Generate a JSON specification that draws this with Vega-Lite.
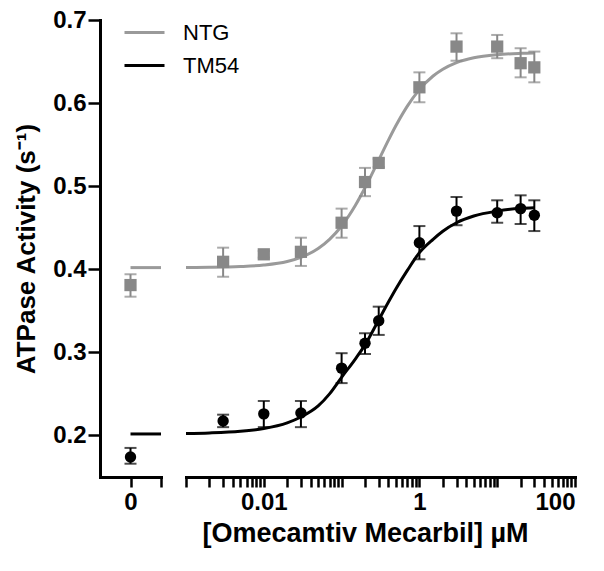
{
  "$schema": "https://vega.github.io/schema/vega-lite/v6.json",
  "padding": {"left": 13, "top": 8, "right": 5, "bottom": 5},
  "background": "white",
  "bounds": "flush",
  "config": {
    "view": {"stroke": null},
    "font": "Liberation Sans",
    "axis": {
      "grid": false,
      "domainColor": "black",
      "domainWidth": 3,
      "domainCap": "square",
      "tickColor": "black",
      "tickWidth": 2.5,
      "labelColor": "black",
      "titleColor": "black",
      "labelFont": "Liberation Sans",
      "titleFont": "Liberation Sans",
      "labelFontSize": 24,
      "labelFontWeight": "bold",
      "titleFontSize": 26,
      "titleFontWeight": "bold"
    }
  },
  "datasets": {
    "pts": [
      {"group": "NTG", "conc": 0, "act": 0.381, "lo": 0.367, "hi": 0.394},
      {"group": "NTG", "conc": 0.003, "act": 0.409, "lo": 0.391, "hi": 0.426},
      {"group": "NTG", "conc": 0.01, "act": 0.418, "lo": 0.414, "hi": 0.422},
      {"group": "NTG", "conc": 0.03, "act": 0.421, "lo": 0.404, "hi": 0.438},
      {"group": "NTG", "conc": 0.1, "act": 0.456, "lo": 0.438, "hi": 0.473},
      {"group": "NTG", "conc": 0.2, "act": 0.505, "lo": 0.488, "hi": 0.522},
      {"group": "NTG", "conc": 0.3, "act": 0.528, "lo": 0.523, "hi": 0.533},
      {"group": "NTG", "conc": 1, "act": 0.619, "lo": 0.601, "hi": 0.637},
      {"group": "NTG", "conc": 3, "act": 0.668, "lo": 0.651, "hi": 0.684},
      {"group": "NTG", "conc": 10, "act": 0.668, "lo": 0.654, "hi": 0.682},
      {"group": "NTG", "conc": 20, "act": 0.648, "lo": 0.631, "hi": 0.666},
      {"group": "NTG", "conc": 30, "act": 0.643, "lo": 0.625, "hi": 0.662},
      {"group": "TM54", "conc": 0, "act": 0.174, "lo": 0.166, "hi": 0.185},
      {"group": "TM54", "conc": 0.003, "act": 0.2175, "lo": 0.210, "hi": 0.225},
      {"group": "TM54", "conc": 0.01, "act": 0.226, "lo": 0.210, "hi": 0.2415},
      {"group": "TM54", "conc": 0.03, "act": 0.227, "lo": 0.210, "hi": 0.2415},
      {"group": "TM54", "conc": 0.1, "act": 0.281, "lo": 0.263, "hi": 0.299},
      {"group": "TM54", "conc": 0.2, "act": 0.311, "lo": 0.298, "hi": 0.323},
      {"group": "TM54", "conc": 0.3, "act": 0.338, "lo": 0.321, "hi": 0.355},
      {"group": "TM54", "conc": 1, "act": 0.432, "lo": 0.412, "hi": 0.452},
      {"group": "TM54", "conc": 3, "act": 0.470, "lo": 0.453, "hi": 0.487},
      {"group": "TM54", "conc": 10, "act": 0.468, "lo": 0.456, "hi": 0.483},
      {"group": "TM54", "conc": 20, "act": 0.473, "lo": 0.4545, "hi": 0.489},
      {"group": "TM54", "conc": 30, "act": 0.465, "lo": 0.446, "hi": 0.483}
    ],
    "fit": [
      {"group": "NTG", "conc": 0.001, "act": 0.4022},
      {"group": "NTG", "conc": 0.002, "act": 0.4024},
      {"group": "NTG", "conc": 0.005, "act": 0.4033},
      {"group": "NTG", "conc": 0.01, "act": 0.4051},
      {"group": "NTG", "conc": 0.02, "act": 0.4094},
      {"group": "NTG", "conc": 0.03, "act": 0.4144},
      {"group": "NTG", "conc": 0.05, "act": 0.425},
      {"group": "NTG", "conc": 0.07, "act": 0.436},
      {"group": "NTG", "conc": 0.1, "act": 0.4521},
      {"group": "NTG", "conc": 0.15, "act": 0.4768},
      {"group": "NTG", "conc": 0.2, "act": 0.4981},
      {"group": "NTG", "conc": 0.3, "act": 0.5315},
      {"group": "NTG", "conc": 0.4, "act": 0.5554},
      {"group": "NTG", "conc": 0.5, "act": 0.573},
      {"group": "NTG", "conc": 0.7, "act": 0.5964},
      {"group": "NTG", "conc": 1, "act": 0.6162},
      {"group": "NTG", "conc": 1.5, "act": 0.6326},
      {"group": "NTG", "conc": 2, "act": 0.6407},
      {"group": "NTG", "conc": 3, "act": 0.6487},
      {"group": "NTG", "conc": 5, "act": 0.6545},
      {"group": "NTG", "conc": 10, "act": 0.6583},
      {"group": "NTG", "conc": 20, "act": 0.6599},
      {"group": "NTG", "conc": 30, "act": 0.6604},
      {"group": "TM54", "conc": 0.001, "act": 0.2025},
      {"group": "TM54", "conc": 0.002, "act": 0.2031},
      {"group": "TM54", "conc": 0.005, "act": 0.205},
      {"group": "TM54", "conc": 0.01, "act": 0.2084},
      {"group": "TM54", "conc": 0.02, "act": 0.2152},
      {"group": "TM54", "conc": 0.03, "act": 0.2222},
      {"group": "TM54", "conc": 0.05, "act": 0.2355},
      {"group": "TM54", "conc": 0.07, "act": 0.25},
      {"group": "TM54", "conc": 0.1, "act": 0.27},
      {"group": "TM54", "conc": 0.15, "act": 0.292},
      {"group": "TM54", "conc": 0.2, "act": 0.309},
      {"group": "TM54", "conc": 0.3, "act": 0.339},
      {"group": "TM54", "conc": 0.4, "act": 0.3605},
      {"group": "TM54", "conc": 0.5, "act": 0.3765},
      {"group": "TM54", "conc": 0.7, "act": 0.3986},
      {"group": "TM54", "conc": 1, "act": 0.42},
      {"group": "TM54", "conc": 1.5, "act": 0.4361},
      {"group": "TM54", "conc": 2, "act": 0.4458},
      {"group": "TM54", "conc": 3, "act": 0.456},
      {"group": "TM54", "conc": 5, "act": 0.4641},
      {"group": "TM54", "conc": 10, "act": 0.47},
      {"group": "TM54", "conc": 20, "act": 0.4733},
      {"group": "TM54", "conc": 30, "act": 0.474}
    ],
    "zerofit": [
      {"group": "NTG", "conc": 0, "act": 0.402},
      {"group": "TM54", "conc": 0, "act": 0.2018}
    ]
  },
  "spacing": 25,
  "resolve": {"scale": {"color": "shared"}},
  "hconcat": [
    {
      "width": 61,
      "height": 457,
      "layer": [
        {
          "data": {"name": "zerofit"},
          "mark": {"type": "rule", "strokeWidth": 3},
          "encoding": {
            "x": {
              "field": "conc", "type": "quantitative",
              "scale": {"domain": [-1, 1], "nice": false, "zero": false},
              "axis": {
                "title": null,
                "values": [0, 1],
                "labelExpr": "datum.value == 0 ? '0' : ''",
                "tickSize": 10,
                "labelPadding": 3,
                "encode": {"ticks": {"update": {
                  "y": {"signal": "datum.value == 1 ? -8 : 0"},
                  "y2": {"signal": "datum.value == 1 ? 5 : 11"}
                }}}
              }
            },
            "x2": {"datum": 1},
            "y": {
              "field": "act", "type": "quantitative",
              "scale": {"domain": [0.15, 0.7], "nice": false, "zero": false},
              "axis": {
                "title": "ATPase Activity (s⁻¹)",
                "values": [0.2, 0.3, 0.4, 0.5, 0.6, 0.7],
                "format": ".1f",
                "tickSize": 12,
                "labelPadding": 2,
                "titlePadding": 13
              }
            },
            "color": {
              "field": "group", "type": "nominal",
              "scale": {"domain": ["NTG", "TM54"], "range": ["#9a9a9a", "#000000"]},
              "legend": {
                "title": null,
                "orient": "none",
                "legendX": 23,
                "legendY": -9,
                "symbolType": "stroke",
                "symbolSize": 1600,
                "symbolStrokeWidth": 3,
                "labelFontSize": 22,
                "labelFontWeight": "normal",
                "labelColor": "black",
                "labelOffset": 17,
                "rowPadding": -9,
                "padding": 0
              }
            }
          }
        },
        {
          "data": {"name": "pts"},
          "transform": [{"filter": "datum.conc == 0"}],
          "layer": [
            {
              "mark": {"type": "rule", "strokeWidth": 2},
              "encoding": {
                "x": {"field": "conc", "type": "quantitative"},
                "y": {"field": "lo", "type": "quantitative"},
                "y2": {"field": "hi"},
                "color": {"condition": {"test": "datum.group == 'NTG'", "value": "#888888"}, "value": "#000000"}
              }
            },
            {
              "mark": {"type": "tick", "orient": "horizontal", "size": 12, "thickness": 2},
              "encoding": {
                "x": {"field": "conc", "type": "quantitative"},
                "y": {"field": "lo", "type": "quantitative"},
                "color": {"condition": {"test": "datum.group == 'NTG'", "value": "#888888"}, "value": "#000000"}
              }
            },
            {
              "mark": {"type": "tick", "orient": "horizontal", "size": 12, "thickness": 2},
              "encoding": {
                "x": {"field": "conc", "type": "quantitative"},
                "y": {"field": "hi", "type": "quantitative"},
                "color": {"condition": {"test": "datum.group == 'NTG'", "value": "#888888"}, "value": "#000000"}
              }
            },
            {
              "mark": {"type": "point", "filled": true, "opacity": 1},
              "encoding": {
                "x": {"field": "conc", "type": "quantitative"},
                "y": {"field": "act", "type": "quantitative"},
                "shape": {"condition": {"test": "datum.group == 'NTG'", "value": "square"}, "value": "circle"},
                "size": {"condition": {"test": "datum.group == 'NTG'", "value": 150}, "value": 130},
                "color": {"condition": {"test": "datum.group == 'NTG'", "value": "#888888"}, "value": "#000000"}
              }
            }
          ]
        }
      ]
    },
    {
      "width": 389,
      "height": 457,
      "layer": [
        {
          "data": {"name": "fit"},
          "mark": {"type": "line", "strokeWidth": 3, "interpolate": "monotone"},
          "encoding": {
            "x": {
              "field": "conc", "type": "quantitative",
              "scale": {"type": "log", "domain": [0.001, 100], "nice": false},
              "axis": {
                "title": "[Omecamtiv Mecarbil] µM",
                "titleX": 179,
                "titlePadding": 6,
                "titleFontSize": 27,
                "values": [0.001, 0.002, 0.003, 0.004, 0.005, 0.006, 0.007, 0.008, 0.009,
                           0.01, 0.02, 0.03, 0.04, 0.05, 0.06, 0.07, 0.08, 0.09,
                           0.1, 0.2, 0.3, 0.4, 0.5, 0.6, 0.7, 0.8, 0.9,
                           1, 2, 3, 4, 5, 6, 7, 8, 9,
                           10, 20, 30, 40, 50, 60, 70, 80, 90, 100],
                "labelExpr": "datum.value == 0.01 ? '0.01' : datum.value == 1 ? '1' : datum.value == 100 ? '100' : ''",
                "labelOverlap": false,
                "tickSize": 10,
                "labelPadding": 3,
                "encode": {"ticks": {"update": {
                  "y": {"signal": "datum.value == 0.001 ? -8 : 0"},
                  "y2": {"signal": "datum.value == 0.001 ? 5 : ((datum.value == 0.01 || datum.value == 1 || datum.value == 100) ? 8 : 5)"}
                }}}
              }
            },
            "y": {
              "field": "act", "type": "quantitative",
              "scale": {"domain": [0.15, 0.7], "nice": false, "zero": false},
              "axis": null
            },
            "color": {"field": "group", "type": "nominal", "scale": {"domain": ["NTG", "TM54"], "range": ["#9a9a9a", "#000000"]}}
          }
        },
        {
          "data": {"name": "pts"},
          "transform": [{"filter": "datum.conc > 0"}],
          "layer": [
            {
              "mark": {"type": "rule", "strokeWidth": 2},
              "encoding": {
                "x": {"field": "conc", "type": "quantitative"},
                "y": {"field": "lo", "type": "quantitative"},
                "y2": {"field": "hi"},
                "color": {"condition": {"test": "datum.group == 'NTG'", "value": "#888888"}, "value": "#000000"}
              }
            },
            {
              "mark": {"type": "tick", "orient": "horizontal", "size": 12, "thickness": 2},
              "encoding": {
                "x": {"field": "conc", "type": "quantitative"},
                "y": {"field": "lo", "type": "quantitative"},
                "color": {"condition": {"test": "datum.group == 'NTG'", "value": "#888888"}, "value": "#000000"}
              }
            },
            {
              "mark": {"type": "tick", "orient": "horizontal", "size": 12, "thickness": 2},
              "encoding": {
                "x": {"field": "conc", "type": "quantitative"},
                "y": {"field": "hi", "type": "quantitative"},
                "color": {"condition": {"test": "datum.group == 'NTG'", "value": "#888888"}, "value": "#000000"}
              }
            },
            {
              "mark": {"type": "point", "filled": true, "opacity": 1},
              "encoding": {
                "x": {"field": "conc", "type": "quantitative"},
                "y": {"field": "act", "type": "quantitative"},
                "shape": {"condition": {"test": "datum.group == 'NTG'", "value": "square"}, "value": "circle"},
                "size": {"condition": {"test": "datum.group == 'NTG'", "value": 150}, "value": 130},
                "color": {"condition": {"test": "datum.group == 'NTG'", "value": "#888888"}, "value": "#000000"}
              }
            }
          ]
        }
      ]
    }
  ]
}
